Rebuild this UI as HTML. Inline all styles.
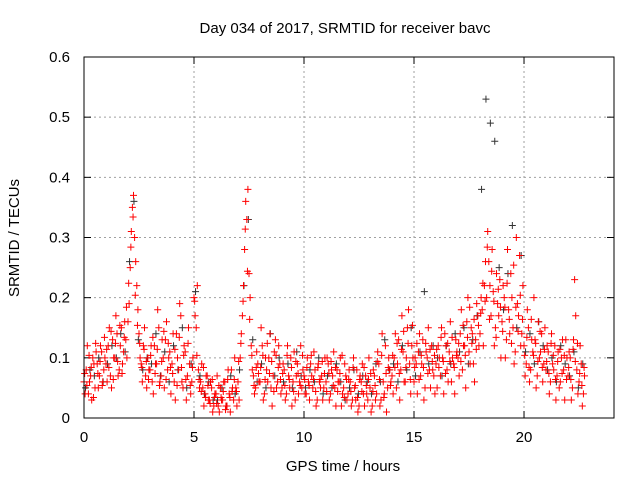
<!DOCTYPE html>
<html><head><meta charset="utf-8"><style>
body{margin:0;background:#fff}
svg{display:block;font-family:"Liberation Sans",sans-serif;font-size:15px}
</style></head><body>
<svg id="chart" width="640" height="480" xmlns="http://www.w3.org/2000/svg">
<rect width="640" height="480" fill="#fff"/>
<g id="grid"></g>
<g id="axes"></g>
<g id="blackPts"></g>
<g id="redPts"></g>
<rect x="84" y="57" width="530" height="361" fill="none" stroke="#000" stroke-width="1"/>
<text x="345" y="33" text-anchor="middle">Day 034 of 2017, SRMTID for receiver bavc</text>
<text x="343" y="471" text-anchor="middle">GPS time / hours</text>
<text x="0" y="0" transform="translate(19,238) rotate(-90)" text-anchor="middle">SRMTID / TECUs</text>
</svg>
<script>
const xTicks=[0,5,10,15,20];
const yTicks=[0,0.1,0.2,0.3,0.4,0.5,0.6];
const yTickLabels=["0","0.1","0.2","0.3","0.4","0.5","0.6"];
const redStep=0.1;
const redA=[.06,.08,.04,.07,.10,.05,.09,.07,.11,.08,
.09,.12,.07,.13,.10,.14,.08,.15,.11,.13,
.16,.25,.35,.30,.22,.14,.09,.12,.07,.10,
.08,.06,.12,.09,.15,.07,.10,.13,.08,.11,
.09,.06,.14,.08,.17,.05,.11,.07,.09,.06,
.20,.15,.08,.06,.05,.04,.07,.03,.05,.02,
.04,.02,.05,.03,.06,.02,.04,.08,.03,.05,
.06,.10,.17,.28,.33,.24,.12,.07,.05,.09,
.06,.12,.04,.08,.10,.05,.07,.13,.06,.09,
.05,.08,.04,.07,.10,.06,.03,.09,.06,.05,
.07,.04,.06,.09,.05,.08,.03,.06,.07,.05,
.06,.09,.04,.07,.05,.08,.06,.02,.05,.07,
.04,.06,.03,.05,.08,.02,.06,.04,.07,.03,
.05,.02,.07,.04,.09,.03,.06,.12,.05,.08,
.07,.10,.05,.13,.08,.11,.06,.15,.09,.12,
.06,.09,.11,.07,.13,.05,.10,.08,.12,.07,
.09,.12,.07,.10,.14,.08,.11,.06,.09,.13,
.10,.14,.08,.12,.16,.11,.15,.09,.13,.17,
.14,.18,.22,.20,.26,.17,.21,.15,.19,.23,
.16,.20,.13,.18,.24,.15,.11,.19,.27,.14,
.12,.09,.15,.08,.11,.13,.07,.10,.14,.09,
.08,.11,.06,.09,.12,.07,.05,.10,.08,.13,
.07,.10,.05,.23,.08,.06,.09,.04];
const redB=[.04,.12,.06,.03,.09,.11,.05,.12,.06,.10,
.06,.15,.05,.10,.17,.07,.12,.09,.16,.10,
.19,.31,.37,.26,.18,.10,.06,.15,.05,.08,
.12,.04,.09,.18,.06,.13,.05,.16,.10,.04,
.14,.03,.10,.19,.06,.12,.03,.15,.04,.10,
.17,.22,.05,.09,.02,.07,.03,.06,.01,.04,
.07,.01,.03,.06,.02,.08,.01,.05,.10,.02,
.03,.14,.22,.36,.38,.20,.08,.04,.11,.06,
.15,.03,.10,.06,.14,.02,.11,.05,.12,.04,
.09,.03,.12,.05,.02,.11,.07,.04,.12,.08,
.04,.10,.03,.07,.11,.02,.09,.05,.03,.10,
.10,.03,.08,.11,.02,.06,.10,.04,.09,.03,
.08,.02,.10,.03,.01,.07,.09,.02,.04,.10,
.01,.08,.03,.11,.02,.14,.04,.01,.10,.06,
.04,.14,.09,.03,.17,.06,.10,.18,.04,.10,
.10,.04,.14,.09,.03,.11,.15,.05,.08,.04,
.05,.10,.15,.04,.12,.06,.16,.10,.04,.11,
.07,.18,.12,.05,.20,.09,.14,.06,.19,.12,
.20,.12,.26,.31,.22,.28,.12,.24,.17,.10,
.22,.10,.28,.14,.20,.09,.30,.17,.12,.22,
.07,.18,.06,.13,.20,.05,.16,.11,.06,.15,
.12,.04,.14,.08,.03,.11,.06,.13,.03,.10,
.11,.03,.13,.17,.04,.12,.02,.07];
const redC=[.07,.05,.10,.08,.03,.12,.07,.09,.05,.13,
.11,.08,.14,.06,.12,.09,.15,.07,.13,.18,
.22,.28,.33,.20,.15,.12,.08,.11,.09,.06,
.10,.13,.07,.11,.05,.09,.14,.06,.12,.08,
.07,.11,.05,.13,.08,.10,.06,.12,.05,.08,
.19,.10,.06,.04,.08,.03,.05,.02,.06,.03,
.02,.05,.03,.04,.01,.06,.03,.04,.06,.04,
.09,.12,.19,.31,.24,.16,.10,.05,.08,.07,
.08,.10,.06,.12,.07,.09,.04,.10,.08,.06,
.07,.05,.10,.06,.08,.04,.09,.07,.05,.10,
.06,.08,.05,.10,.06,.04,.08,.06,.09,.07,
.04,.07,.09,.05,.08,.04,.07,.10,.03,.06,
.06,.04,.08,.05,.03,.06,.04,.08,.05,.06,
.07,.04,.05,.09,.06,.10,.03,.07,.08,.05,
.10,.08,.12,.07,.11,.14,.08,.12,.06,.15,
.08,.12,.06,.10,.08,.12,.07,.11,.09,.10,
.11,.08,.13,.09,.07,.12,.09,.13,.08,.10,
.12,.09,.15,.10,.13,.18,.12,.16,.11,.15,
.17,.22,.19,.28,.16,.24,.19,.13,.21,.18,
.14,.18,.22,.16,.12,.25,.18,.14,.20,.16,
.10,.13,.08,.16,.10,.12,.09,.14,.08,.11,
.09,.07,.12,.10,.06,.09,.11,.07,.10,.06,
.08,.06,.11,.09,.12,.07,.05,.08];
const blackStep=0.2;
const blackY=[.05,.08,.07,.10,.06,.09,.12,.10,.14,.11,
.26,.36,.13,.08,.10,.09,.14,.07,.11,.06,
.12,.08,.15,.05,.09,.21,.07,.04,.06,.03,
.03,.05,.02,.07,.04,.08,.22,.33,.13,.06,
.09,.05,.14,.07,.10,.06,.09,.05,.11,.07,
.05,.08,.06,.10,.04,.07,.05,.09,.06,.03,
.05,.08,.04,.07,.06,.04,.09,.06,.13,.08,
.09,.06,.12,.08,.15,.07,.11,.21,.09,.12,
.10,.07,.12,.09,.14,.11,.15,.09,.13,.17,
.38,.53,.49,.46,.25,.18,.24,.32,.15,.27,
.11,.14,.09,.16,.12,.08,.10,.06,.12,.09,
.07,.11,.05,.09];

const X0=84,X1=614,Y0=418,Y1=57,XMAX=24.09,YMAX=0.6;
const sx=v=>X0+(X1-X0)*v/XMAX;
const sy=v=>Y0-(Y0-Y1)*v/YMAX;
const NS="http://www.w3.org/2000/svg";
function mk(tag,attrs,parent){const e=document.createElementNS(NS,tag);for(const k in attrs)e.setAttribute(k,attrs[k]);parent.appendChild(e);return e;}
const grid=document.getElementById('grid'),axes=document.getElementById('axes');
yTicks.forEach((t,i)=>{
  const y=sy(t);
  if(i>0&&i<yTicks.length-1){const g=mk('line',{x1:X0,x2:X1,y1:y,y2:y,stroke:'#a0a0a0','stroke-dasharray':'2,3'},grid);
  
  }
  mk('line',{x1:X0,x2:X0+7,y1:y,y2:y,stroke:'#000'},axes);
  mk('line',{x1:X1,x2:X1-7,y1:y,y2:y,stroke:'#000'},axes);
  const tx=mk('text',{x:X0-14,y:y+5,'text-anchor':'end'},axes);
  tx.textContent=yTickLabels[i];
  
  
});
xTicks.forEach(t=>{
  const x=sx(t);
  if(t>0){const g=mk('line',{x1:x,x2:x,y1:Y0,y2:Y1,stroke:'#a0a0a0','stroke-dasharray':'2,3'},grid);
  
  }
  mk('line',{x1:x,x2:x,y1:Y0,y2:Y0-7,stroke:'#000'},axes);
  mk('line',{x1:x,x2:x,y1:Y1,y2:Y1+7,stroke:'#000'},axes);
  const tx=mk('text',{x:x,y:Y0+24,'text-anchor':'middle'},axes);
  tx.textContent=String(t);
  
  
});
function plus(g,h,v,color){
  const x=sx(h),y=sy(v);
  const p=mk('path',{d:`M${x-3.5},${y}H${x+3.5}M${x},${y-3.5}V${y+3.5}`,stroke:color,'stroke-width':1,fill:'none'},g);
  
  
}
const bg=document.getElementById('blackPts'),rg=document.getElementById('redPts');
blackY.forEach((v,i)=>plus(bg,i*blackStep+0.07,v,'#333'));
redA.forEach((v,i)=>plus(rg,i*redStep,v,'#f00'));
redB.forEach((v,i)=>plus(rg,i*redStep+0.05,v,'#f00'));
redC.forEach((v,i)=>plus(rg,i*redStep+0.03,v+0.004,'#f00'));
</script>
</body></html>
